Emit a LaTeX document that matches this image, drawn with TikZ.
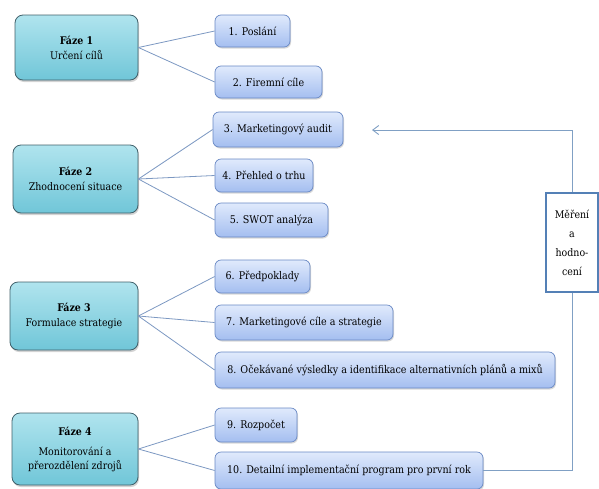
\documentclass[tikz,border=0pt]{standalone}
\usepackage{fontspec}
\setmainfont{DejaVu Serif Condensed}
\usetikzlibrary{shadows,arrows.meta}

\definecolor{phasetop}{RGB}{176,228,238}
\definecolor{phasebot}{RGB}{112,198,216}
\definecolor{phaseline}{RGB}{64,96,106}
\definecolor{itemtop}{RGB}{224,234,252}
\definecolor{itembot}{RGB}{164,190,240}
\definecolor{itemline}{RGB}{104,136,196}
\definecolor{linkcol}{RGB}{124,152,194}
\definecolor{loopcol}{RGB}{128,160,196}
\definecolor{evalline}{RGB}{84,128,182}

\tikzset{
  phase/.style={draw=phaseline, line width=0.8pt, rounded corners=8pt,
    top color=phasetop, bottom color=phasebot, align=center,
    font=\fontsize{10.5}{17}\selectfont, inner sep=0pt,
    drop shadow={opacity=0.35, shadow xshift=1pt, shadow yshift=-2pt}},
  item/.style={draw=itemline, line width=0.7pt, rounded corners=6pt,
    top color=itemtop, bottom color=itembot, align=center,
    font=\fontsize{10.6}{13}\selectfont, inner sep=0pt,
    drop shadow={opacity=0.3, shadow xshift=1pt, shadow yshift=-1.5pt}},
  link/.style={draw=linkcol, line width=0.8pt},
  evalbox/.style={draw=evalline, line width=2pt, fill=white, align=center,
    font=\fontsize{10.5}{19}\selectfont, inner sep=0pt},
  loop/.style={draw=loopcol, line width=0.9pt}
}

\begin{document}
\begin{tikzpicture}[x=1pt,y=-1pt]
\useasboundingbox (0,0) rectangle (599,488);

% phases
\node[phase, minimum width=123pt, minimum height=65pt] (f1) at (76.5,47.5)
  {\textbf{Fáze 1}\\[-2pt] Určení cílů};
\node[phase, minimum width=125pt, minimum height=68pt] (f2) at (75.5,179)
  {\textbf{Fáze 2}\\[-2pt] Zhodnocení situace};
\node[phase, minimum width=128pt, minimum height=68pt] (f3) at (74,316)
  {\textbf{Fáze 3}\\[-2pt] Formulace strategie};
\node[phase, minimum width=126pt, minimum height=72pt] (f4) at (75,449)
  {\textbf{Fáze 4}\\[3pt] Monitorování a\\[-3pt] přerozdělení zdrojů};

% steps
\node[item, minimum width=75pt,  minimum height=32pt] (s1)  at (252.5,31)  {1. Poslání};
\node[item, minimum width=107pt, minimum height=32pt] (s2)  at (268.5,82)  {2. Firemní cíle};
\node[item, minimum width=130pt, minimum height=35pt] (s3)  at (278,129.5) {3. Marketingový audit};
\node[item, minimum width=98pt,  minimum height=33pt] (s4)  at (264,175.5) {4. Přehled o trhu};
\node[item, minimum width=113pt, minimum height=34pt] (s5)  at (271.5,220) {5. SWOT analýza};
\node[item, minimum width=95pt,  minimum height=33pt] (s6)  at (262.5,276.5) {6. Předpoklady};
\node[item, minimum width=178pt, minimum height=35pt] (s7)  at (304,322.5) {7. Marketingové cíle a strategie};
\node[item, minimum width=340pt, minimum height=36pt] (s8)  at (385,370) {8. Očekávané výsledky a identifikace alternativních plánů a mixů};
\node[item, minimum width=82pt,  minimum height=34pt] (s9)  at (256,425) {9. Rozpočet};
\node[item, minimum width=268pt, minimum height=37pt] (s10) at (349,470.5) {10. Detailní implementační program pro první rok};

% phase to step connectors
\foreach \p/\s in {f1/s1,f1/s2,f2/s3,f2/s4,f2/s5,f3/s6,f3/s7,f3/s8,f4/s9,f4/s10}
  \draw[link] (\p.east) -- (\s.west);

% evaluation box and feedback loop
\node[evalbox, minimum width=52pt, minimum height=99pt] (ev) at (572,242.5)
  {Měření\\ a\\ hodno-\\ cení};
\coordinate (loopend) at (372,130);
\draw[loop] (s10.east) -- (ev.south |- s10.east) -- (ev.south);
\draw[loop, -{Straight Barb[length=6pt,width=9pt]}] (ev.north) |- (loopend);
\end{tikzpicture}
\end{document}
